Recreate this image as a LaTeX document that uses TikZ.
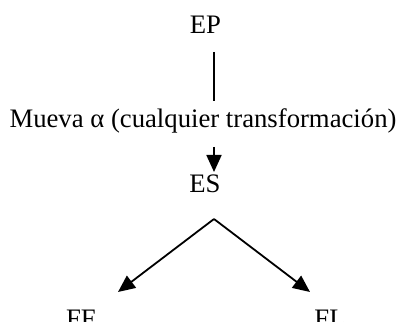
\documentclass[tikz,border=0pt]{standalone}
\usepackage{fontspec}
\setmainfont{Liberation Serif}
\usetikzlibrary{arrows.meta,positioning}

\begin{document}
\begin{tikzpicture}[x=1pt,y=1pt,
  word/.style={inner sep=0pt,anchor=base,font=\fontsize{26.7}{32}\selectfont},
  link/.style={line width=1.8pt},
  pointer/.style={link,-{Triangle[length=17pt,width=15pt]}}]
 \useasboundingbox (0,0) rectangle (401,321);
 \node[word] (EP) at (205.5,287) {EP};
 \node[word] (MV) at (203,193) {Mueva α (cualquier transformación)};
 \node[word] (ES) at (205,128) {ES};
 \node[word] (FF) at (81,-6) {FF};
 \node[word] (FL) at (330,-6) {FL};
 \coordinate (fork) at (214,102);
 \coordinate (ff-tip) at (118,29);
 \coordinate (fl-tip) at (310,29);
 % trunk and the two branches
 \draw[link,shorten <=18pt,shorten >=27pt] (EP.base -| fork) -- (MV.base -| fork);
 \draw[pointer,shorten <=19pt,shorten >=21pt] (MV.base -| fork) -- (ES.base -| fork);
 \draw[pointer] (fork) -- (ff-tip);
 \draw[pointer] (fork) -- (fl-tip);
\end{tikzpicture}
\end{document}
